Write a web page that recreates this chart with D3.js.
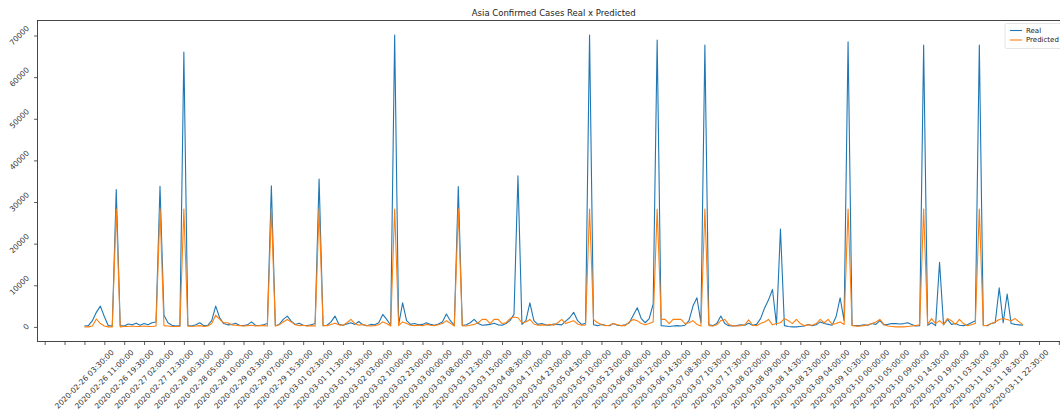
<!DOCTYPE html>
<html><head><meta charset="utf-8">
<script src="https://cdn.jsdelivr.net/npm/d3@7"></script>
<style>body{margin:0;background:#fff;overflow:hidden;} text{font-family:"DejaVu Sans",sans-serif;}</style>
</head><body><svg id="c" width="1060" height="410"></svg>
<script>
const title = "Asia Confirmed Cases Real x Predicted";
const seriesNames = ["Real", "Predicted"];
const seriesColors = ["#1f77b4", "#ff7f0e"];

const real = [
200,300,1500,3500,5000,2500,300,200,33000,300,
200,700,500,900,400,800,500,1000,1200,33800,
2800,1000,400,200,300,66000,300,200,500,1000,
300,400,1500,5000,2200,800,500,600,900,400,
300,500,1200,400,300,500,800,33900,300,600,
1800,2600,1400,600,900,400,300,500,800,35500,
300,400,1200,2600,600,400,700,1000,600,1300,
500,300,600,500,1000,3000,1800,400,70100,500,
5800,1500,600,800,500,600,1000,600,400,700,
1200,3100,1500,400,33700,300,500,1000,1800,800,
400,500,600,900,500,400,800,1500,3000,36300,
600,1500,5800,1500,600,800,500,400,700,600,
500,1400,2200,3500,1500,600,900,70100,500,300,
600,400,300,800,400,300,500,1000,2800,4600,
2000,1000,2000,5500,68900,300,200,100,200,300,
200,400,1500,5000,7000,1000,67700,500,300,800,
2600,800,300,200,300,500,400,900,400,600,
2000,4500,6500,9000,500,23500,300,100,0,0,
100,200,600,300,500,1200,800,600,400,2500,
7000,1500,68500,400,300,300,500,400,800,600,
1500,500,600,800,800,700,800,1000,600,200,
300,67700,400,1000,300,15500,500,1800,600,800,
400,300,500,1000,1500,67700,400,300,800,1000,
9400,1000,7900,800,600,500,400
];

const predicted = [
0,0,200,1900,800,200,0,0,28300,0,
100,100,200,100,100,200,100,100,200,28300,
300,200,100,100,100,28300,200,100,200,300,
100,200,800,2800,1800,1000,1000,500,400,300,
200,300,400,200,300,300,200,28300,200,500,
1200,1800,1200,500,300,400,200,300,200,28300,
300,300,600,900,500,400,1000,1800,800,400,
600,300,200,300,500,1200,800,200,28300,300,
1200,800,400,300,400,300,600,400,300,500,
800,1500,900,200,28300,300,200,400,600,1000,
1800,1800,800,1800,1800,800,1000,2000,2400,2200,
1000,1200,1800,700,400,500,400,600,400,1000,
1800,800,1200,1500,700,400,500,28300,1800,1000,
600,300,400,800,500,300,300,1200,1800,1500,
800,500,800,1200,28300,1800,1800,800,1800,1800,
1800,800,1000,1500,600,200,28300,300,200,500,
1500,1800,600,300,200,300,500,1700,400,300,
800,1200,1800,500,800,1000,2000,1500,800,1800,
800,300,500,400,800,1800,1000,1800,600,800,
1200,600,28300,300,200,200,300,500,800,1200,
1800,600,200,100,0,0,0,100,200,300,
500,28300,600,2000,800,1500,600,2000,1500,600,
1800,800,300,500,800,28300,300,400,800,1200,
1800,2000,1800,1500,2000,1200,500
];

const xTickLabels = [
"2020-02-26 03:30:00","2020-02-26 11:00:00","2020-02-26 19:30:00","2020-02-27 02:00:00",
"2020-02-27 12:30:00","2020-02-28 00:30:00","2020-02-28 05:00:00","2020-02-28 10:00:00",
"2020-02-29 03:30:00","2020-02-29 07:00:00","2020-02-29 15:30:00","2020-03-01 02:30:00",
"2020-03-01 11:30:00","2020-03-01 15:30:00","2020-03-02 03:00:00","2020-03-02 10:00:00",
"2020-03-02 23:00:00","2020-03-03 00:00:00","2020-03-03 08:00:00","2020-03-03 12:30:00",
"2020-03-03 15:00:00","2020-03-04 08:30:00","2020-03-04 17:00:00","2020-03-04 23:00:00",
"2020-03-05 04:30:00","2020-03-05 10:00:00","2020-03-05 23:00:00","2020-03-06 06:00:00",
"2020-03-06 12:00:00","2020-03-06 14:30:00","2020-03-07 08:30:00","2020-03-07 10:30:00",
"2020-03-07 17:30:00","2020-03-08 02:00:00","2020-03-08 09:00:00","2020-03-08 14:30:00",
"2020-03-08 23:00:00","2020-03-09 04:00:00","2020-03-09 10:30:00","2020-03-10 00:00:00",
"2020-03-10 05:00:00","2020-03-10 09:00:00","2020-03-10 14:30:00","2020-03-10 19:00:00",
"2020-03-11 03:30:00","2020-03-11 10:30:00","2020-03-11 18:30:00","2020-03-11 22:30:00"
];
const xTickStep = 5;
const xTickFirst = -10;
const xTickLast = 245;
const yTicks = [0,10000,20000,30000,40000,50000,60000,70000];

// layout
const L = 37.5, R = 1070, T = 20.5, B = 341.5;
const tickFont = 7.5, titleFont = 8.5;
const svg = d3.select("#c");

const n = real.length;
const xm = (n - 1) * 0.05;
const x = d3.scaleLinear().domain([-xm, n - 1 + xm]).range([L, R]);
const yMax = d3.max([d3.max(real), d3.max(predicted)]);
const yMin = d3.min([d3.min(real), d3.min(predicted)]);
const ym = (yMax - yMin) * 0.05;
const y = d3.scaleLinear().domain([yMin - ym, yMax + ym]).range([B, T]);

// lines
const line = d3.line().x((d, i) => x(i)).y(d => y(d));
[real, predicted].forEach((s, k) => {
  svg.append("path").datum(s).attr("fill", "none")
    .attr("stroke", seriesColors[k]).attr("stroke-width", 1.1)
    .attr("stroke-linejoin", "round").attr("d", line);
});

// spines
svg.append("rect").attr("x", L).attr("y", T).attr("width", R - L).attr("height", B - T)
  .attr("fill", "none").attr("stroke", "#333").attr("stroke-width", 0.9);

// x axis ticks
const xTickVals = d3.range(xTickFirst, xTickLast + 1, xTickStep);
const xAxis = d3.axisBottom(x).tickValues(xTickVals).tickSize(3.5).tickFormat("");
const gx = svg.append("g").attr("transform", `translate(0,${B})`).call(xAxis);
gx.select(".domain").remove();
gx.selectAll(".tick line").attr("stroke", "#333").attr("stroke-width", 0.8);

const xl = svg.append("g");
xTickLabels.forEach((lab, j) => {
  const idx = j * xTickStep;
  const t = xl.append("text").attr("font-size", tickFont).attr("fill", "#333")
    .attr("text-anchor", "middle").attr("dominant-baseline", "central").text(lab);
  const len = t.node().getComputedTextLength();
  const half = (len + tickFont) * Math.SQRT1_2 / 2;
  const cx = x(idx), cy = B + 7 + half;
  t.attr("transform", `translate(${cx},${cy}) rotate(-45)`);
});

// y axis
const yAxis = d3.axisLeft(y).tickValues(yTicks).tickSize(3.5).tickFormat("");
const gy = svg.append("g").attr("transform", `translate(${L},0)`).call(yAxis);
gy.select(".domain").remove();
gy.selectAll(".tick line").attr("stroke", "#333").attr("stroke-width", 0.8);
const yl = svg.append("g");
yTicks.forEach(v => {
  const t = yl.append("text").attr("font-size", tickFont).attr("fill", "#333")
    .attr("text-anchor", "middle").attr("dominant-baseline", "central").text(String(v));
  const len = t.node().getComputedTextLength();
  const half = (len + tickFont) * Math.SQRT1_2 / 2;
  t.attr("transform", `translate(${L - 7 - half},${y(v)}) rotate(-45)`);
});

// title
svg.append("text").attr("x", (L + R) / 2).attr("y", 16).attr("text-anchor", "middle")
  .attr("font-size", titleFont).attr("fill", "#222").text(title);

// legend
const lg = svg.append("g").attr("transform", `translate(${R - 65},${T + 3})`);
lg.append("rect").attr("width", 58).attr("height", 25).attr("rx", 2)
  .attr("fill", "#fff").attr("fill-opacity", 0.8).attr("stroke", "#ddd").attr("stroke-width", 0.8);
seriesNames.forEach((name, k) => {
  const yy = 7 + k * 9.5;
  lg.append("line").attr("x1", 5).attr("x2", 17).attr("y1", yy).attr("y2", yy)
    .attr("stroke", seriesColors[k]).attr("stroke-width", 1.1);
  lg.append("text").attr("x", 21).attr("y", yy).attr("dominant-baseline", "central")
    .attr("font-size", 7).attr("fill", "#222").text(name);
});
</script></body></html>
